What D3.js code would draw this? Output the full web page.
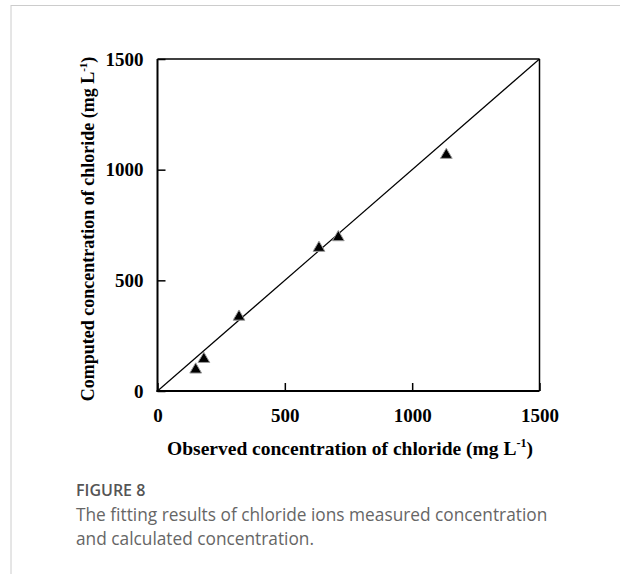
<!DOCTYPE html>
<html><head><meta charset="utf-8">
<script src="https://cdn.jsdelivr.net/npm/d3@7"></script>
<style>body{margin:0;background:#fff}svg{display:block}</style>
</head><body>
<script>
const observed = [150, 182, 320, 634, 710, 1134];
const computed = [100, 148, 339, 650, 698, 1070];
const xTicks = [0, 500, 1000, 1500];
const yTicks = [0, 500, 1000, 1500];
const caption = ["The fitting results of chloride ions measured concentration", "and calculated concentration."];

const W = 620, H = 574;
const svg = d3.select("body").append("svg").attr("width", W).attr("height", H);

// frame
svg.append("line").attr("x1", 11).attr("x2", 620).attr("y1", 5.5).attr("y2", 5.5).attr("stroke", "#ccc").attr("stroke-width", 1);
svg.append("line").attr("x1", 11).attr("x2", 11).attr("y1", 5).attr("y2", 574).attr("stroke", "#ccc").attr("stroke-width", 1);

const L = 157.5, R = 539.5, T = 59, B = 391;
const x = d3.scaleLinear().domain([0, 1500]).range([L, R]);
const y = d3.scaleLinear().domain([0, 1500]).range([B, T]);

const serif = "'Liberation Serif','Times New Roman',serif";

// x axis
const gx = svg.append("g").attr("transform", `translate(0,${B})`)
  .call(d3.axisBottom(x).tickValues(xTicks).tickSize(-8).tickPadding(18).tickFormat(d3.format("d")));
gx.select(".domain").remove();
gx.selectAll(".tick line").attr("stroke", "#000").attr("stroke-width", 1.5);
gx.selectAll(".tick text").attr("font-family", serif).attr("font-weight", "bold").attr("font-size", 19).attr("fill", "#000");

// y axis
const gy = svg.append("g").attr("transform", `translate(${L},0)`)
  .call(d3.axisLeft(y).tickValues(yTicks).tickSize(-8).tickPadding(14).tickFormat(d3.format("d")));
gy.select(".domain").remove();
gy.selectAll(".tick line").attr("stroke", "#000").attr("stroke-width", 1.5);
gy.selectAll(".tick text").attr("font-family", serif).attr("font-weight", "bold").attr("font-size", 19).attr("fill", "#000");

// box
svg.append("line").attr("x1", L).attr("x2", R).attr("y1", T).attr("y2", T).attr("stroke", "#000").attr("stroke-width", 1.5);
svg.append("line").attr("x1", R).attr("x2", R).attr("y1", T).attr("y2", B).attr("stroke", "#000").attr("stroke-width", 1.5);
svg.append("line").attr("x1", L).attr("x2", L).attr("y1", T).attr("y2", B + 1).attr("stroke", "#000").attr("stroke-width", 2);
svg.append("line").attr("x1", L - 1).attr("x2", R).attr("y1", B).attr("y2", B).attr("stroke", "#000").attr("stroke-width", 2);

// 1:1 line
svg.append("line").attr("x1", x(0)).attr("y1", y(0)).attr("x2", x(1500)).attr("y2", y(1500))
  .attr("stroke", "#000").attr("stroke-width", 1.2);

// points
const tri = d3.symbol().type(d3.symbolTriangle).size(60);
svg.append("g").selectAll("path").data(observed.map((o, i) => [o, computed[i]])).join("path")
  .attr("d", tri).attr("transform", d => `translate(${x(d[0])},${y(d[1]) + 0.8})`)
  .attr("fill", "#000").attr("stroke", "#999").attr("stroke-width", 1);

// axis titles
const xt = svg.append("text").attr("x", 350).attr("y", 455).attr("text-anchor", "middle")
  .attr("font-family", serif).attr("font-weight", "bold").attr("font-size", 19.5).attr("fill", "#000");
xt.append("tspan").text("Observed concentration of chloride (mg L");
xt.append("tspan").attr("font-size", 12).attr("dy", -8).text("-1");
xt.append("tspan").attr("dy", 8).text(")");

const yt = svg.append("text").attr("transform", `translate(94,229) rotate(-90)`).attr("text-anchor", "middle")
  .attr("font-family", serif).attr("font-weight", "bold").attr("font-size", 18).attr("fill", "#000");
yt.append("tspan").text("Computed concentration of chloride (mg L");
yt.append("tspan").attr("font-size", 11).attr("dy", -7).text("-1");
yt.append("tspan").attr("dy", 7).text(")");

// caption
svg.append("text").attr("x", 76).attr("y", 496).attr("font-family", "'Open Sans',sans-serif").attr("font-size", 16)
  .attr("font-weight", 600).attr("fill", "#555").text("FIGURE 8");
svg.append("g").selectAll("text").data(caption).join("text")
  .attr("x", 76).attr("y", (d, i) => 521 + i * 24)
  .attr("font-family", "'Open Sans',sans-serif").attr("font-size", 17.3).attr("fill", "#666").text(d => d);
</script>
</body></html>
